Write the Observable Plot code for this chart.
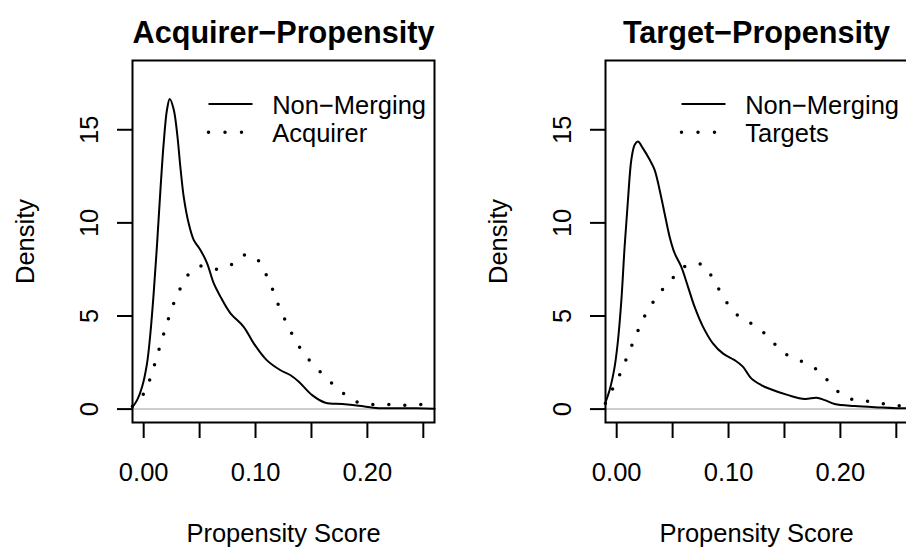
<!DOCTYPE html>
<html><head><meta charset="utf-8">
<script src="https://cdn.jsdelivr.net/npm/d3@7"></script>
<script src="https://cdn.jsdelivr.net/npm/@observablehq/plot@0.6"></script>
<style>
html,body{margin:0;padding:0;background:#fff;overflow:hidden;}
#wrap{position:relative;width:906px;height:547px;overflow:hidden;background:#fff;}
.panel{position:absolute;top:0;width:453px;height:547px;}
.panel svg{max-width:none !important;}
</style></head>
<body>
<div id="wrap"><div class="panel" id="p1" style="left:0px"></div><div class="panel" id="p2" style="left:473px"></div></div>
<script>
// ---- data ----
const titles = ["Acquirer\u2212Propensity", "Target\u2212Propensity"];
const legendAcq = ["Non\u2212Merging", "Acquirer"];
const legendTgt = ["Non\u2212Merging", "Targets"];
const xLabel = "Propensity Score";
const yLabel = "Density";
const xTicks = [0, 0.05, 0.10, 0.15, 0.20, 0.25];
const xTickLabels = [0, 0.10, 0.20];
const yTicks = [0, 5, 10, 15];
const xlim = [0, 0.25];
const ylim = [0, 18];

const acqNonMerging = [[-0.0101,0.1],[-0.0059,0.48],[-0.0014,1.2],[0.003,2.46],[0.006,4.07],[0.0089,6.2],[0.012,8.9],[0.015,11.8],[0.0179,14.3],[0.0209,16.1],[0.0233,16.65],[0.0268,16.1],[0.0299,14.8],[0.0328,13.0],[0.0358,11.4],[0.0402,9.98],[0.0447,9.09],[0.0507,8.55],[0.0567,7.83],[0.0626,6.76],[0.0686,6.04],[0.0776,5.14],[0.0894,4.42],[0.0984,3.53],[0.110,2.63],[0.122,2.1],[0.131,1.83],[0.1387,1.47],[0.1506,0.75],[0.1625,0.34],[0.1775,0.27],[0.1923,0.18],[0.210,0.05],[0.231,0.05],[0.2601,0.02]];
const acqAcquirer = [[-0.0101,0.15],[0.0006,0.88],[0.006,1.68],[0.0102,2.49],[0.0143,3.32],[0.0185,4.16],[0.0227,4.96],[0.0275,5.77],[0.0334,6.56],[0.0409,7.29],[0.0525,7.70],[0.0668,7.51],[0.0799,7.80],[0.0919,8.30],[0.1032,7.94],[0.1097,7.2],[0.1154,6.4],[0.1205,5.58],[0.1265,4.78],[0.1327,4.02],[0.1399,3.28],[0.1485,2.60],[0.1584,1.97],[0.1688,1.36],[0.1795,0.81],[0.1917,0.36],[0.2057,0.25],[0.22,0.25],[0.2343,0.2],[0.2483,0.25],[0.2601,0.25]];
const tgtNonMerging = [[-0.0101,0.35],[-0.0063,1.02],[-0.0018,2.28],[0.0012,3.71],[0.0042,5.86],[0.0071,8.73],[0.0101,11.24],[0.0131,13.39],[0.0161,14.2],[0.019,14.37],[0.0235,14.0],[0.0294,13.4],[0.0339,12.85],[0.0384,11.77],[0.0428,10.52],[0.0473,9.26],[0.0518,8.37],[0.0577,7.65],[0.0637,6.58],[0.0696,5.5],[0.0771,4.43],[0.086,3.53],[0.0949,2.99],[0.1054,2.63],[0.1128,2.28],[0.1203,1.65],[0.1292,1.29],[0.1354,1.12],[0.1533,0.75],[0.1682,0.54],[0.1786,0.61],[0.186,0.48],[0.1949,0.27],[0.2128,0.16],[0.2366,0.09],[0.2574,0.04],[0.2601,0.04]];
const tgtTargets = [[-0.0101,0.3],[-0.0021,1.27],[0.0041,2.02],[0.0095,2.83],[0.0149,3.62],[0.0205,4.41],[0.0268,5.2],[0.0345,5.91],[0.0434,6.6],[0.0533,7.22],[0.0643,7.78],[0.0771,7.74],[0.0857,7.04],[0.0928,6.29],[0.1003,5.57],[0.1101,4.94],[0.1226,4.51],[0.1339,3.98],[0.1437,3.35],[0.1547,2.81],[0.1682,2.49],[0.1803,2.06],[0.1902,1.43],[0.2003,0.82],[0.2131,0.47],[0.227,0.41],[0.2414,0.25],[0.2554,0.16],[0.2601,0.14]];

// ---- drawing ----
const FONT = "'Liberation Sans', Arial, Helvetica, sans-serif";
const FS = 25.5;
const expand = l => [l[0] - 0.04 * (l[1] - l[0]), l[1] + 0.04 * (l[1] - l[0])];
const segment = len => ({draw(ctx) { ctx.moveTo(-len / 2, 0); ctx.lineTo(len / 2, 0); }});
const DOTS = {strokeDasharray: "0 16", strokeLinecap: "round", strokeWidth: 3.5};

function panel(title, legend, solid, dotted) {
  return Plot.plot({
    width: 453, height: 547,
    marginLeft: 132, marginRight: 19, marginTop: 60, marginBottom: 125,
    x: {domain: expand(xlim)},
    y: {domain: expand(ylim)},
    style: {fontFamily: FONT, background: "white", color: "black", overflow: "visible", maxWidth: "none"},
    marks: [
      Plot.ruleY([0], {stroke: "#bebebe", strokeWidth: 1.5}),
      Plot.line(solid, {x: d => d[0], y: d => d[1], curve: "catmull-rom", stroke: "black", strokeWidth: 2}),
      Plot.line(dotted, {x: d => d[0], y: d => d[1], curve: "catmull-rom", stroke: "black", ...DOTS}),
      Plot.frame({stroke: "black", strokeWidth: 2}),
      Plot.axisX({ticks: xTicks, tickSize: 16, tickPadding: 24, strokeWidth: 2, fontSize: FS, label: null,
        tickFormat: d => xTickLabels.includes(d) ? d.toFixed(2) : ""}),
      Plot.axisY({ticks: yTicks, tickSize: 15, strokeWidth: 2, label: null, tickFormat: () => ""}),
      Plot.text(yTicks, {y: d => d, text: d => String(d), frameAnchor: "left", dx: -35, rotate: -90,
        textAnchor: "middle", lineAnchor: "bottom", fontSize: FS, fill: "black"}),
      Plot.text([yLabel], {text: d => d, frameAnchor: "left", dx: -99, rotate: -90,
        textAnchor: "middle", lineAnchor: "bottom", fontSize: FS, fill: "black"}),
      Plot.text([xLabel], {text: d => d, frameAnchor: "bottom", dy: 119, lineAnchor: "bottom", fontSize: FS, fill: "black"}),
      Plot.text([title], {text: d => d, frameAnchor: "top", dy: -17.5, lineAnchor: "bottom",
        fontSize: 30.6, fontWeight: "bold", fill: "black"}),
      // legend (top-right, no box)
      Plot.dot([legend[0]], {frameAnchor: "top-left", dx: 98, dy: 43.5, symbol: segment(44),
        stroke: "black", strokeWidth: 2, fill: "none"}),
      Plot.dot([legend[1]], {frameAnchor: "top-left", dx: 98, dy: 71.7, symbol: segment(44),
        stroke: "black", fill: "none", ...DOTS, strokeDasharray: "0 16.5"}),
      Plot.text([legend[0]], {text: d => d, frameAnchor: "top-left", dx: 139.7, dy: 53.5,
        textAnchor: "start", lineAnchor: "bottom", fontSize: FS, fill: "black"}),
      Plot.text([legend[1]], {text: d => d, frameAnchor: "top-left", dx: 139.7, dy: 81.7,
        textAnchor: "start", lineAnchor: "bottom", fontSize: FS, fill: "black"})
    ]
  });
}

document.getElementById("p1").append(panel(titles[0], legendAcq, acqNonMerging, acqAcquirer));
document.getElementById("p2").append(panel(titles[1], legendTgt, tgtNonMerging, tgtTargets));
</script>
</body></html>
